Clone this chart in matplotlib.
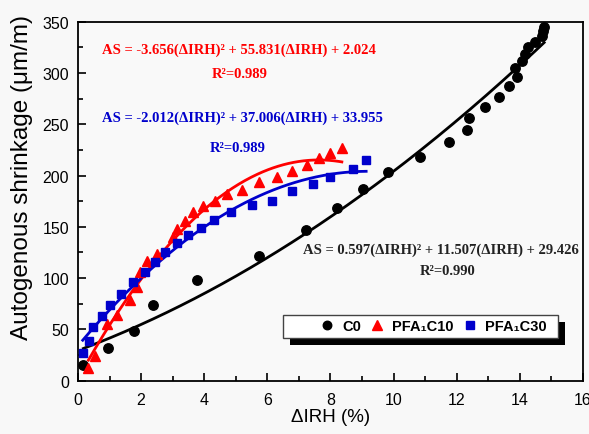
import numpy as np
import matplotlib.pyplot as plt
from matplotlib.patches import Rectangle
from matplotlib.ticker import MultipleLocator

# measured points (ΔIRH %, AS µm/m)
c0_x = [0.17, 0.96, 1.78, 2.37, 3.78, 5.72, 7.22, 8.22, 9.04, 9.81, 10.84, 11.77,
        12.32, 12.40, 12.9, 13.34, 13.64, 13.9, 13.83, 14.06, 14.16, 14.25, 14.48,
        14.69, 14.72, 14.77]
c0_y = [15.3, 31.9, 48.7, 73.8, 98.5, 122, 146.8, 168.6, 186.8, 203, 218.3, 233,
        244.6, 256, 266.5, 276.8, 287, 296.3, 304.5, 312, 318.4, 325, 330,
        336.3, 341, 344.4]

c10_x = [0.33, 0.54, 0.91, 1.25, 1.65, 1.88, 1.96, 2.18, 2.51, 3.02, 3.15, 3.39,
         3.65, 3.95, 4.34, 4.71, 5.19, 5.74, 6.3, 6.77, 7.27, 7.65, 8.0, 8.36]
c10_y = [12, 24.4, 55, 64, 78.6, 91, 105.6, 117, 123.5, 139.8, 147.9, 156,
         164, 170.6, 175.4, 182, 185.9, 193.4, 198.9, 204.7, 210.2, 216.8, 222, 226.8]

c30_x = [0.15, 0.36, 0.48, 0.75, 1.01, 1.36, 1.75, 2.12, 2.44, 2.76, 3.13, 3.5,
         3.89, 4.31, 4.84, 5.5, 6.14, 6.77, 7.44, 7.98, 8.7, 9.13]
c30_y = [26.7, 39, 52.6, 63.4, 73.8, 84.5, 95.9, 106.2, 115.4, 125.1, 134.2, 142,
         148.5, 156.6, 164.1, 171.3, 175.4, 184.9, 191.7, 198.2, 206.3, 215.4]

# quadratic fit coefficients printed on the chart
c0_fit = [0.597, 11.507, 29.426]
c10_fit = [-3.656, 55.831, 2.024]
c30_fit = [-2.012, 37.006, 33.955]

plt.rcParams['font.family'] = ['Liberation Sans', 'DejaVu Sans']

fig = plt.figure(figsize=(5.89, 4.35), dpi=100)
fig.patch.set_facecolor('#f8f8f8')
ax = fig.add_axes([0.1324, 0.1225, 0.8574, 0.8255])
ax.set_facecolor('#f9f9f9')

series = [
    (c0_x, c0_y, c0_fit, 'black', 'o', 6.8, 'C0'),
    (c10_x, c10_y, c10_fit, '#ff0000', '^', 7.8, 'PFA\u2081C10'),
    (c30_x, c30_y, c30_fit, '#0000cc', 's', 6.2, 'PFA\u2081C30'),
]
for xs, ys, fit, col, mk, ms, lab in series:
    xx = np.linspace(min(xs), max(xs), 200)
    ax.plot(xx, np.polyval(fit, xx), color=col, lw=2, zorder=2)
    ax.plot(xs, ys, linestyle='none', marker=mk, ms=ms, color=col, label=lab, zorder=3)

ax.set_xlim(0, 16)
ax.set_ylim(0, 350)
ax.xaxis.set_major_locator(MultipleLocator(2))
ax.xaxis.set_minor_locator(MultipleLocator(1))
ax.yaxis.set_major_locator(MultipleLocator(50))
ax.yaxis.set_minor_locator(MultipleLocator(25))
ax.tick_params(which='both', direction='in', labelsize=11.5, width=1.2)
ax.tick_params(which='major', length=6)
ax.tick_params(which='minor', length=3.5)
ax.tick_params(axis='x', pad=8)
ax.tick_params(axis='y', pad=6.5)
for s in ax.spines.values():
    s.set_linewidth(1.3)

ax.set_xlabel('\u0394IRH (%)', fontsize=13.5, labelpad=1)
ax.set_ylabel('Autogenous shrinkage (\u03bcm/m)', fontsize=17.5)
ax.yaxis.set_label_coords(-0.09, 0.569)

tfont = dict(family='Liberation Serif', fontweight='bold', fontsize=10.5,
             ha='center', va='center')
ax.text(5.11, 323, 'AS = -3.656(\u0394IRH)\u00b2 + 55.831(\u0394IRH) + 2.024',
        color='#ff0000', **tfont)
ax.text(5.11, 299, 'R\u00b2=0.989', color='#ff0000', **tfont)
ax.text(5.2, 257, 'AS = -2.012(\u0394IRH)\u00b2 + 37.006(\u0394IRH) + 33.955',
        color='#0000cc', **tfont)
ax.text(5.07, 227, 'R\u00b2=0.989', color='#0000cc', **tfont)
ax.text(11.5, 128, 'AS = 0.597(\u0394IRH)\u00b2 + 11.507(\u0394IRH) + 29.426',
        color='#222222', **tfont)
ax.text(11.7, 107, 'R\u00b2=0.990', color='#222222', **tfont)

# legend: frame and black drop shadow drawn by hand, entries from the legend
ax.add_patch(Rectangle((0.420, 0.100), 0.544, 0.064, transform=ax.transAxes,
                       facecolor='black', edgecolor='none', zorder=5, clip_on=False))
ax.add_patch(Rectangle((0.406, 0.119), 0.544, 0.064, transform=ax.transAxes,
                       facecolor='white', edgecolor='#444444', lw=1, zorder=5.5,
                       clip_on=False))
leg = ax.legend(loc='center left', bbox_to_anchor=(0.479, 0.151), ncol=3,
                prop=dict(weight='bold', size=10.5), frameon=False,
                handlelength=1.0, handletextpad=0.53, columnspacing=0.6,
                borderpad=0, borderaxespad=0, markerscale=0.9)
leg.set_zorder(6)

fig.savefig('out.png', dpi=100, facecolor=fig.get_facecolor())
